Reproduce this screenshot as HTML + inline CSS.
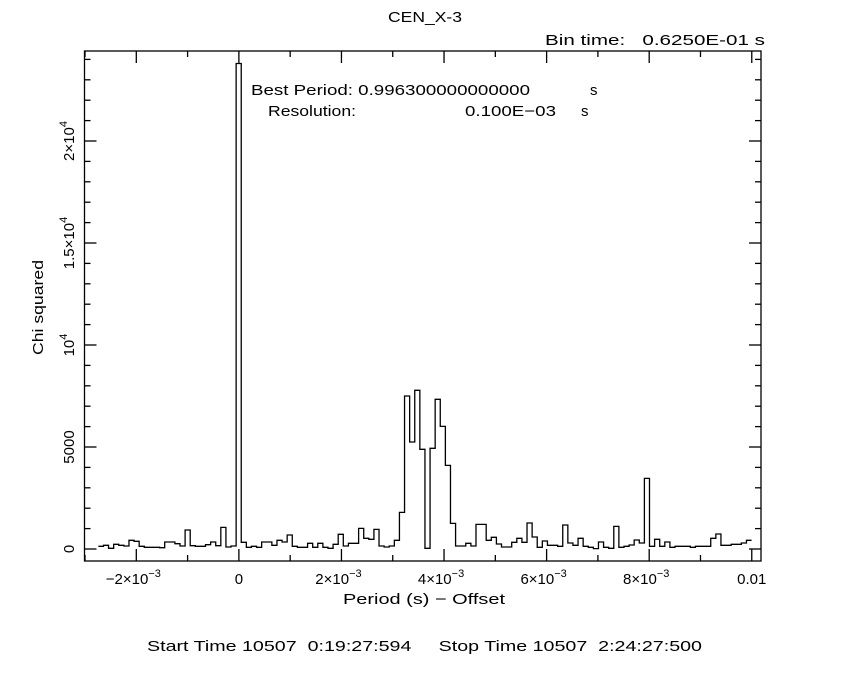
<!DOCTYPE html>
<html><head><meta charset="utf-8">
<style>
html,body{margin:0;padding:0;background:#fff;}
svg{display:block;font-family:"Liberation Sans",sans-serif;}
text{fill:#000;}
</style></head>
<body>
<svg id="chart" width="850" height="680" viewBox="0 0 850 680" xmlns="http://www.w3.org/2000/svg">
<text x="388" y="22" font-size="15" textLength="74" lengthAdjust="spacingAndGlyphs">CEN_X-3</text>
<text x="545" y="45" font-size="15" xml:space="preserve" textLength="220" lengthAdjust="spacingAndGlyphs">Bin time:   0.6250E-01 s</text>
<text x="251" y="95" font-size="15" xml:space="preserve" textLength="279" lengthAdjust="spacingAndGlyphs">Best Period: 0.996300000000000</text>
<text x="590" y="95" font-size="15">s</text>
<text x="268" y="116" font-size="15" textLength="88" lengthAdjust="spacingAndGlyphs">Resolution:</text>
<text x="465" y="116" font-size="15" textLength="91" lengthAdjust="spacingAndGlyphs">0.100E−03</text>
<text x="581" y="116" font-size="15">s</text>
<g id="axes"></g>
<path id="hist" fill="none" stroke="#000" stroke-width="1.3"></path>
<text x="343" y="604" font-size="15" textLength="162" lengthAdjust="spacingAndGlyphs">Period (s) − Offset</text>
<text transform="translate(43,355) rotate(-90)" font-size="15" textLength="95" lengthAdjust="spacingAndGlyphs">Chi squared</text>
<text x="147" y="651" font-size="15" xml:space="preserve" textLength="555" lengthAdjust="spacingAndGlyphs">Start Time 10507  0:19:27:594     Stop Time 10507  2:24:27:500</text>
</svg>
<script>
const binStart = -2.74e-3;
const binWidth = 0.0995e-3;
const chiValues = [131,180,33,229,180,147,425,376,131,82,82,82,65,343,343,261,147,931,163,131,131,212,343,163,1062,98,147,23800,327,82,131,82,343,343,180,425,343,686,131,82,82,
278,82,278,82,33,229,719,147,278,278,1013,523,474,964,147,98,147,425,1797,7500,5245,7778,4886,33,4935,7337,6013,4101,1258,147,147,278,147,1209,1209,425,572,245,98,98,327,523,327,
1274,588,82,392,180,180,131,1176,294,180,523,131,82,20,343,82,33,1111,82,131,196,441,294,3464,131,474,131,343,82,131,131,131,82,131,131,131,523,735,180,180,229,229,294,425];
const xTickVals = [-2e-3,0,2e-3,4e-3,6e-3,8e-3,0.01];
const xTickLabels = ["−2×10<tspan dy='-7' font-size='11'>−3</tspan>","0","2×10<tspan dy='-7' font-size='11'>−3</tspan>","4×10<tspan dy='-7' font-size='11'>−3</tspan>","6×10<tspan dy='-7' font-size='11'>−3</tspan>","8×10<tspan dy='-7' font-size='11'>−3</tspan>","0.01"];
const yTickVals = [0,5000,10000,15000,20000];
const yTickLabels = ["0","5000","10<tspan dy='-7' font-size='11'>4</tspan>","1.5×10<tspan dy='-7' font-size='11'>4</tspan>","2×10<tspan dy='-7' font-size='11'>4</tspan>"];

const L=84.5,R=761,T=51,B=561;
const xmin=-3.01e-3,xmax=10.18e-3,ymin=-588,ymax=24412;
const sx=v=>L+(v-xmin)/(xmax-xmin)*(R-L);
const sy=v=>B-(v-ymin)/(ymax-ymin)*(B-T);
const NS="http://www.w3.org/2000/svg";
const ax=document.getElementById('axes');
function line(x1,y1,x2,y2,name){
  const l=document.createElementNS(NS,'line');
  l.setAttribute('x1',x1);l.setAttribute('y1',y1);l.setAttribute('x2',x2);l.setAttribute('y2',y2);
  l.setAttribute('stroke','#000');l.setAttribute('stroke-width','1.3');
  
  
  ax.appendChild(l);
}
const fr=document.createElementNS(NS,'rect');
fr.setAttribute('x',L);fr.setAttribute('y',T);fr.setAttribute('width',R-L);fr.setAttribute('height',B-T);
fr.setAttribute('fill','none');fr.setAttribute('stroke','#000');fr.setAttribute('stroke-width','1.3');


ax.appendChild(fr);
for(let v=-3e-3; v<=10.01e-3; v+=1e-3){
  const major=Math.abs(Math.round(v*1e4)%20)===0;
  const len=major?12:6, x=sx(v);
  line(x,B,x,B-len,'x-tick');
  line(x,T,x,T+len,'x-tick-top');
}
xTickVals.forEach((v,i)=>{
  const t=document.createElementNS(NS,'text');
  t.setAttribute('x',sx(v)+(i==0||i>1&&i<6?-3:0));t.setAttribute('y',584);t.setAttribute('font-size','15');t.setAttribute('text-anchor','middle');
  t.innerHTML=xTickLabels[i];
  
  
  ax.appendChild(t);
});
for(let v=0; v<=24000; v+=1000){
  const major=v%5000===0, len=major?12:6, y=sy(v);
  line(L,y,L+len,y,'y-tick');
  line(R,y,R-len,y,'y-tick-right');
}
yTickVals.forEach((v,i)=>{
  const t=document.createElementNS(NS,'text');
  t.setAttribute('transform','translate(74,'+sy(v)+') rotate(-90)');
  t.setAttribute('font-size','15');t.setAttribute('text-anchor','middle');
  t.innerHTML=yTickLabels[i];
  
  
  ax.appendChild(t);
});
let d='';
chiValues.forEach((v,i)=>{
  const x0=sx(binStart+i*binWidth), x1=sx(binStart+(i+1)*binWidth), y=sy(v);
  d+=(i===0?'M'+x0+' '+y:'L'+x0+' '+y)+' L'+x1+' '+y+' ';
});
document.getElementById('hist').setAttribute('d',d);
</script>
</body></html>
